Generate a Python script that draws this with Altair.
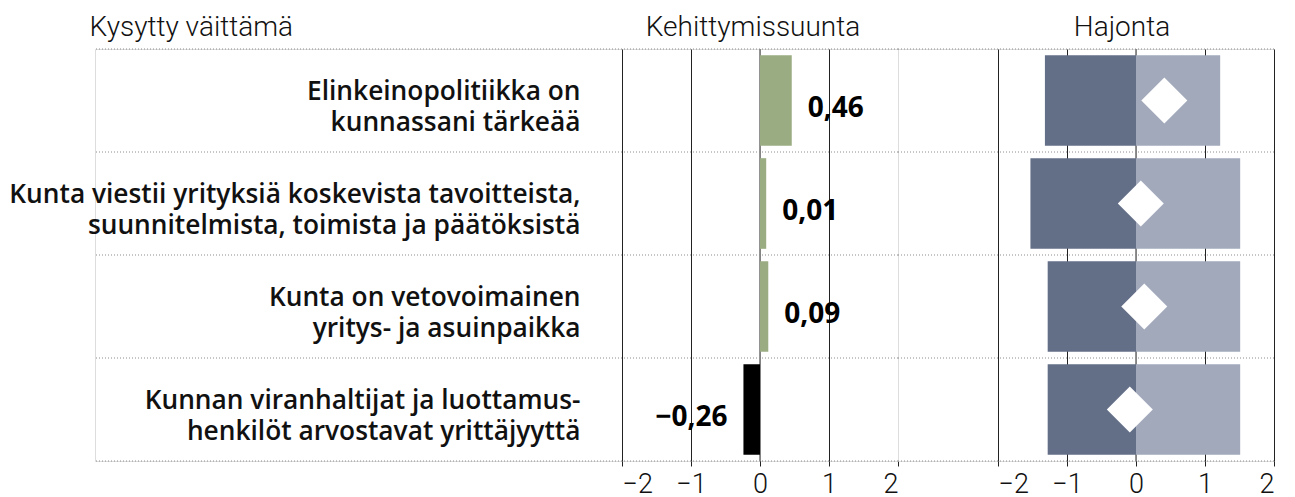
import altair as alt
import pandas as pd

statements = [
    "Elinkeinopolitiikka on|kunnassani tärkeää",
    "Kunta viestii yrityksiä koskevista tavoitteista,|suunnitelmista, toimista ja päätöksistä",
    "Kunta on vetovoimainen|yritys- ja asuinpaikka",
    "Kunnan viranhaltijat ja luottamus-|henkilöt arvostavat yrittäjyyttä",
]
trend_values = [0.46, 0.09, 0.12, -0.24]
trend_labels = ["0,46", "0,01", "0,09", "−0,26"]
spread_low = [-1.32, -1.53, -1.28, -1.28]
spread_high = [1.22, 1.51, 1.51, 1.51]
marker_values = [0.41, 0.07, 0.12, -0.09]
tick_values = [-2, -1, 0, 1, 2]

df = pd.DataFrame({
    "stmt": statements,
    "trend": trend_values,
    "label": trend_labels,
    "low": spread_low,
    "high": spread_high,
    "marker": marker_values,
})

FONT = "Roboto"
LFONT = "Open Sans"
TXT = "#111111"
GREEN = "#9aac82"
DARK = "#636e87"
LIGHT = "#a1a9bb"
DOT = "#8c8c8c"
GRID = "#222222"
ZERO = "#8a8a8a"
PANEL_H = 412
PANEL_W = 276

y_scale = alt.Scale(type="band", paddingInner=0, paddingOuter=0)
x_scale = alt.Scale(domain=[-2, 2], nice=False, zero=False)

x_axis = alt.Axis(
    values=tick_values, format="d", title=None,
    grid=True, gridColor=GRID, gridWidth=1,
    domain=False, ticks=True, tickSize=5, tickColor=GRID,
    labelFont=FONT, labelFontSize=27, labelFontWeight=300, labelColor=TXT,
    labelPadding=5,
)
y_axis = alt.Axis(
    title=None, labelExpr="split(datum.label, '|')",
    labelFont=LFONT, labelFontSize=26.3, labelFontWeight=600, labelColor=TXT,
    labelLineHeight=31, labelPadding=42, labelLimit=2000,
    labelAlign="right", labelBaseline="middle", labelOffset=-8.5,
    ticks=False, domain=False, grid=False,
)


def yenc(axis, **kw):
    return alt.Y("stmt:N", sort=statements, scale=y_scale, axis=axis, **kw)


def xenc(field, axis):
    return alt.X(f"{field}:Q", scale=x_scale, axis=axis)


base = alt.Chart(df)


def dotted_rules(axis):
    top = base.mark_rule(strokeDash=[1, 2], color=DOT, strokeWidth=1).encode(
        y=yenc(axis, bandPosition=0)
    )
    bottom = base.transform_filter(
        alt.datum.stmt == statements[-1]
    ).mark_rule(strokeDash=[1, 2], color=DOT, strokeWidth=1).encode(
        y=yenc(axis, bandPosition=1)
    )
    return [top, bottom]


def zero_rule(axis):
    return base.mark_rule(color=ZERO, strokeWidth=1).encode(x=alt.datum(0, scale=x_scale, axis=axis))


def title(text, **kw):
    return alt.TitleParams(text, font=FONT, fontSize=28, fontWeight=300, color=TXT, offset=7, **kw)


# Label column (dotted rules; the statement labels come from the next panel's y axis)
left = alt.layer(*dotted_rules(None)).properties(
    width=527, height=PANEL_H, title=title("Kysytty väittämä", anchor="start", dx=-5)
)

# Middle panel: Kehittymissuunta
bars = base.mark_bar(height=alt.RelativeBandSize(0.88)).encode(
    x=xenc("trend", x_axis),
    x2=alt.datum(0),
    y=yenc(y_axis),
    color=alt.condition("datum.trend > 0", alt.value(GREEN), alt.value("#000000")),
)
pos_text = base.transform_filter("datum.trend >= 0").mark_text(
    align="left", dx=16, dy=8, font=LFONT, fontSize=28, fontWeight="bold", color="#000000"
).encode(x=xenc("trend", x_axis), y=yenc(y_axis), text="label:N")
neg_text = base.transform_filter("datum.trend < 0").mark_text(
    align="right", dx=-16, dy=8, font=LFONT, fontSize=28, fontWeight="bold", color="#000000"
).encode(x=xenc("trend", x_axis), y=yenc(y_axis), text="label:N")

middle = alt.layer(*dotted_rules(y_axis), zero_rule(x_axis), bars, pos_text, neg_text).properties(
    width=PANEL_W, height=PANEL_H, title=title("Kehittymissuunta", anchor="middle", dx=-7)
)

gap = alt.layer(*dotted_rules(None)).properties(width=100, height=PANEL_H)

# Right panel: Hajonta
low_bar = base.mark_bar(height=alt.RelativeBandSize(0.88), color=DARK).encode(
    x=xenc("low", x_axis),
    x2=alt.datum(0),
    y=yenc(None),
)
high_bar = base.mark_bar(height=alt.RelativeBandSize(0.88), color=LIGHT).encode(
    x=xenc("high", x_axis),
    x2=alt.datum(0),
    y=yenc(None),
)
marker = base.mark_point(shape="diamond", filled=True, color="#ffffff", opacity=1, size=2116).encode(
    x=xenc("marker", x_axis),
    y=yenc(None),
)
right = alt.layer(*dotted_rules(None), zero_rule(x_axis), low_bar, high_bar, marker).properties(
    width=PANEL_W, height=PANEL_H, title=title("Hajonta", anchor="middle", dx=-14)
)

chart = alt.hconcat(left, middle, gap, right, spacing=0, bounds="flush").properties(
    padding={"left": 0, "top": 5, "right": 0, "bottom": 0}
).configure_view(strokeWidth=0).configure(font=FONT)

chart.save("out.html", embed_options={"renderer": "svg", "actions": False})
